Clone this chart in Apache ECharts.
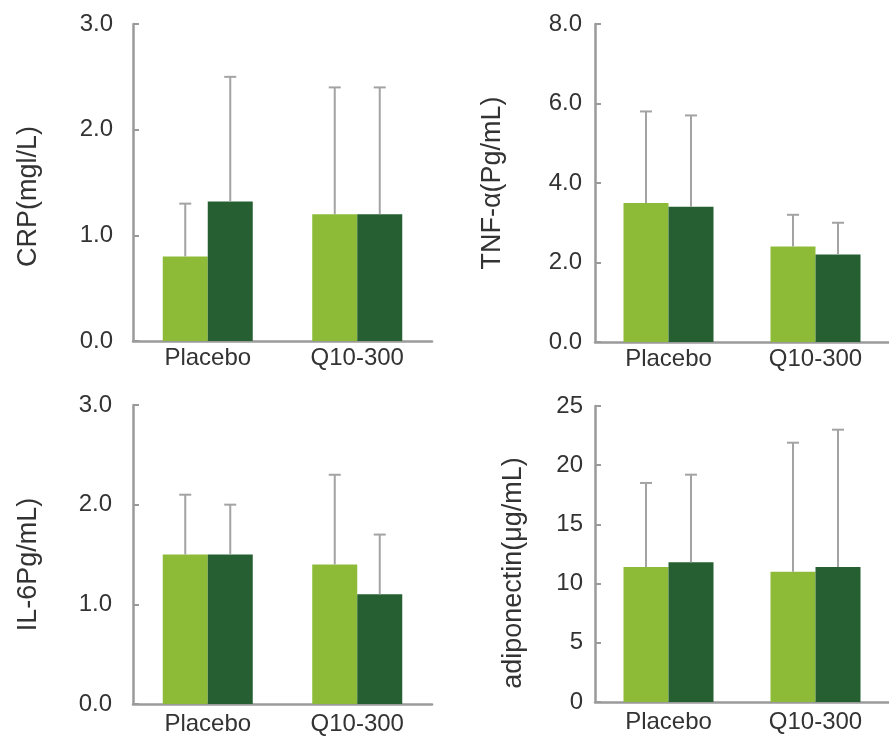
<!DOCTYPE html>
<html>
<head>
<meta charset="utf-8">
<script src="https://cdn.jsdelivr.net/npm/echarts@6/dist/echarts.min.js"></script>
<style>
html,body{margin:0;padding:0;background:#fff;}
#c{width:889px;height:736px;}
</style>
</head>
<body>
<div id="c"></div>
<script>
// ---- data ----
var categories = ['Placebo', 'Q10-300'];

var crpLight = [0.8, 1.2];
var crpLightSD = [0.5, 1.2];
var crpDark = [1.32, 1.2];
var crpDarkSD = [1.18, 1.2];

var tnfLight = [3.5, 2.4];
var tnfLightSD = [2.3, 0.8];
var tnfDark = [3.4, 2.2];
var tnfDarkSD = [2.3, 0.8];

var il6Light = [1.5, 1.4];
var il6LightSD = [0.6, 0.9];
var il6Dark = [1.5, 1.1];
var il6DarkSD = [0.5, 0.6];

var adipLight = [11.4, 11.0];
var adipLightSD = [7.1, 10.9];
var adipDark = [11.8, 11.4];
var adipDarkSD = [7.4, 11.6];

var yNames = ['CRP(mgl/L)', 'TNF-α(Pg/mL)', 'IL-6Pg/mL)', 'adiponectin(μg/mL)'];
var yMax = [3, 8, 3, 25];
var yStep = [1, 2, 1, 5];
var yDecimals = [1, 1, 1, 0];

// ---- style ----
var FONT = 'Liberation Sans, Arial, sans-serif';
var LIGHT = '#8dbb38';
var DARK = '#255f32';
var AXIS = '#9a9a9a';
var ERR = '#a3a3a3';
var TEXT = '#333333';
var BAR_W = 45;

var grids = [
  {left: 133, top: 24, width: 299, height: 317},
  {left: 595, top: 24, width: 304, height: 318},
  {left: 133, top: 405, width: 299, height: 299},
  {left: 595, top: 406, width: 304, height: 296}
];
var nameGaps = [91, 89, 91, 68];
var namePadRight = [28, 0, 20, 38];
var labelMargins = [20, 13, 21, 12];
var catMargins = [5, 5, 8, 8];

var panels = [
  [crpLight, crpLightSD, crpDark, crpDarkSD],
  [tnfLight, tnfLightSD, tnfDark, tnfDarkSD],
  [il6Light, il6LightSD, il6Dark, il6DarkSD],
  [adipLight, adipLightSD, adipDark, adipDarkSD]
];

var xAxes = [], yAxes = [], series = [];

function errSeries(idx, means, sds, offset) {
  return {
    type: 'custom',
    xAxisIndex: idx, yAxisIndex: idx,
    z: 5,
    data: means.map(function (m, i) { return [i, m, sds[i]]; }),
    renderItem: function (params, api) {
      var c = api.value(0), m = api.value(1), s = api.value(2);
      var p0 = api.coord([c, m]);
      var p1 = api.coord([c, m + s]);
      var x = p0[0] + offset;
      return {
        type: 'group',
        children: [
          {type: 'line', shape: {x1: x, y1: p0[1], x2: x, y2: p1[1]},
           style: {stroke: ERR, lineWidth: 2}},
          {type: 'line', shape: {x1: x - 6, y1: p1[1], x2: x + 6, y2: p1[1]},
           style: {stroke: ERR, lineWidth: 2}}
        ]
      };
    }
  };
}

panels.forEach(function (p, i) {
  xAxes.push({
    type: 'category', gridIndex: i, data: categories,
    axisLine: {lineStyle: {color: AXIS, width: 2.5}},
    axisTick: {show: false},
    axisLabel: {color: TEXT, fontSize: 24, fontFamily: FONT, margin: catMargins[i]}
  });
  yAxes.push({
    type: 'value', gridIndex: i, min: 0, max: yMax[i], interval: yStep[i],
    splitLine: {show: false},
    axisLine: {show: true, lineStyle: {color: AXIS, width: 2.5}},
    axisTick: {show: true, inside: true, length: 6, lineStyle: {color: AXIS, width: 2}},
    axisLabel: {
      color: TEXT, fontSize: 24, fontFamily: FONT, margin: labelMargins[i],
      formatter: (function (d) { return function (v) { return v.toFixed(d); }; })(yDecimals[i])
    },
    name: yNames[i], nameLocation: 'middle', nameGap: nameGaps[i],
    nameTextStyle: {color: TEXT, fontSize: 27, fontFamily: FONT,
      padding: [0, namePadRight[i], 0, 0]}
  });
  series.push({
    type: 'bar', xAxisIndex: i, yAxisIndex: i, data: p[0],
    barWidth: BAR_W, barGap: '0%', itemStyle: {color: LIGHT}
  });
  series.push({
    type: 'bar', xAxisIndex: i, yAxisIndex: i, data: p[2],
    barWidth: BAR_W, barGap: '0%', itemStyle: {color: DARK}
  });
  series.push(errSeries(i, p[0], p[1], -BAR_W / 2));
  series.push(errSeries(i, p[2], p[3], BAR_W / 2));
});

var chart = echarts.init(document.getElementById('c'), null, {renderer: 'canvas'});
chart.setOption({
  animation: false,
  backgroundColor: '#ffffff',
  grid: grids,
  xAxis: xAxes,
  yAxis: yAxes,
  series: series
});
</script>
</body>
</html>
